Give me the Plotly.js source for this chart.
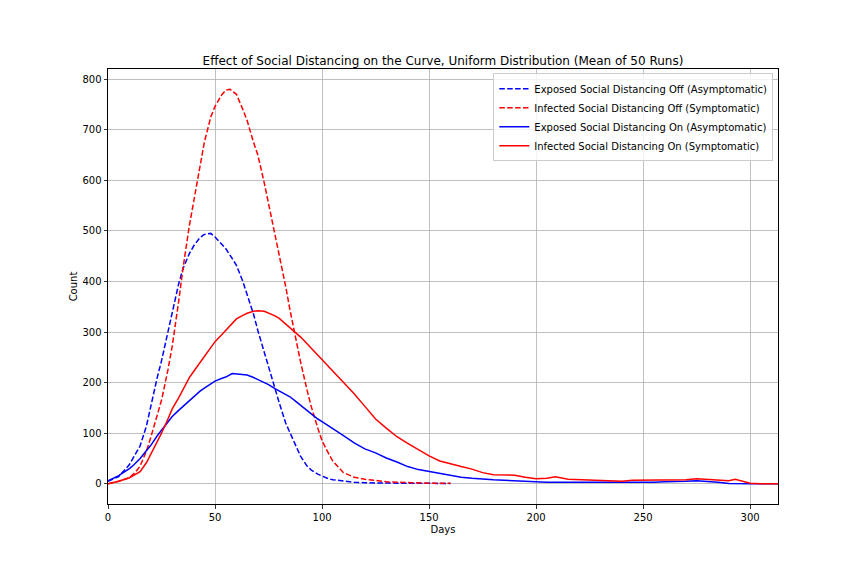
<!DOCTYPE html>
<html>
<head>
<meta charset="utf-8">
<script src="https://cdn.plot.ly/plotly-3.0.1.min.js"></script>
<style>html,body{margin:0;padding:0;background:#fff;}#chart{width:864px;height:576px;}</style>
</head>
<body>
<div id="chart"></div>
<script>
// Days for the "Social Distancing Off" runs (dashed)
var daysOff = [0,5,10,13,15,18,20,23,25,28,30,33,35,38,40,43,45,48,50,53,55,57,60,63,65,68,70,73,75,78,80,83,85,88,90,93,95,98,100,103,105,110,115,120,125,130,135,140,145,150,155,160];
var exposedOff = [5,14,38,60,75,115,155,210,243,300,340,395,425,455,470,487,493,495,488,475,465,452,432,400,375,335,303,260,228,185,160,120,101,70,54,35,27,19,15,10,8,5,3,2,1.5,1,1,1,1,0.5,0.5,0.5];
var infectedOff = [0,5,12,24,35,65,92,135,165,225,272,360,425,510,555,630,675,725,746,768,778,780,770,740,718,675,650,595,555,490,455,390,344,280,240,185,152,110,85,60,45,22,13,9,6,4,3,2,1.5,1,1,1];

// Days for the "Social Distancing On" runs (solid)
var daysOn = [0,5,10,12,15,18,20,23,25,28,30,33,35,38,40,43,45,48,50,53,55,58,60,63,65,68,70,73,75,78,80,83,85,88,90,93,95,98,100,103,105,110,115,120,125,130,135,140,145,150,155,160,165,170,175,180,185,190,195,200,205,209,215,220,225,230,235,240,245,250,255,260,265,270,275,280,285,290,293,296,300,305,313];
var exposedOn = [6,16,30,37,50,65,76,95,106,124,133,145,153,165,172,183,189,198,203,208,211,218,217,216,215,210,206,200,196,188,183,176,172,162,155,145,138,128,123,115,110,95,81,69,61,51,43,34,28,24,20,16,13,11,9,8,7,6,5,3,3,3,3,2.5,2.5,2,2,3,3,3,3,4,4,5,6,5,3,0.5,0,0,0,0,0];
var infectedOn = [0,5,12,17,24,42,58,82,100,128,148,170,186,210,222,240,252,268,281,294,303,316,326,333,337,341,342,341,338,332,327,316,307,297,290,277,268,255,245,232,223,201,178,153,128,110,93,80,67,55,45,39,34,29,22,18,17,17,13,10,11,14,9,8,7,6,5,5,7,7,7,7,8,8,10,9,7,6,9,5,1,0,0];

var seriesNames = [
  "Exposed Social Distancing Off (Asymptomatic)",
  "Infected Social Distancing Off (Symptomatic)",
  "Exposed Social Distancing On (Asymptomatic)",
  "Infected Social Distancing On (Symptomatic)"
];
var xTicks = [0,50,100,150,200,250,300];
var yTicks = [0,100,200,300,400,500,600,700,800];

var dashPat = "5.5px,2.4px";
var traces = [
  {x: daysOff, y: exposedOff, name: seriesNames[0], mode: "lines", line: {color: "#0000ff", width: 1.5, dash: dashPat}},
  {x: daysOff, y: infectedOff, name: seriesNames[1], mode: "lines", line: {color: "#ff0000", width: 1.5, dash: dashPat}},
  {x: daysOn, y: exposedOn, name: seriesNames[2], mode: "lines", line: {color: "#0000ff", width: 1.5}},
  {x: daysOn, y: infectedOn, name: seriesNames[3], mode: "lines", line: {color: "#ff0000", width: 1.5}}
];

var axisCommon = {
  showgrid: true, gridcolor: "#b0b0b0", gridwidth: 0.8,
  zeroline: false, showline: true, linecolor: "#000", linewidth: 1, mirror: true,
  ticks: "outside", ticklen: 3.5, tickwidth: 0.8, tickcolor: "#000",
  tickfont: {family: "DejaVu Sans", size: 10, color: "#000"}
};

var layout = {
  width: 864, height: 576,
  margin: {l: 108, r: 86, t: 69, b: 72, pad: 0},
  paper_bgcolor: "#fff", plot_bgcolor: "#fff",
  font: {family: "DejaVu Sans", size: 10, color: "#000"},
  title: {text: "Effect of Social Distancing on the Curve, Uniform Distribution (Mean of 50 Runs)",
          font: {family: "DejaVu Sans", size: 12, color: "#000"},
          x: 0.5127, xanchor: "center", y: 0.888, yanchor: "bottom"},
  xaxis: Object.assign({}, axisCommon, {
    range: [0, 313], tickvals: xTicks, ticktext: xTicks.map(String),
    title: {text: "Days", font: {family: "DejaVu Sans", size: 10, color: "#000"}, standoff: 4}
  }),
  yaxis: Object.assign({}, axisCommon, {
    range: [-40, 820], tickvals: yTicks, ticktext: yTicks.map(String),
    title: {text: "Count", font: {family: "DejaVu Sans", size: 10, color: "#000"}, standoff: 2}
  }),
  legend: {
    x: 0.993, xanchor: "right", y: 0.99, yanchor: "top",
    bgcolor: "rgba(255,255,255,0.8)", bordercolor: "#cccccc", borderwidth: 1,
    font: {family: "DejaVu Sans", size: 10, color: "#000"},
    itemwidth: 30, tracegroupgap: 0
  },
  showlegend: true
};

Plotly.newPlot("chart", traces, layout, {displayModeBar: false, staticPlot: true});
</script>
</body>
</html>
